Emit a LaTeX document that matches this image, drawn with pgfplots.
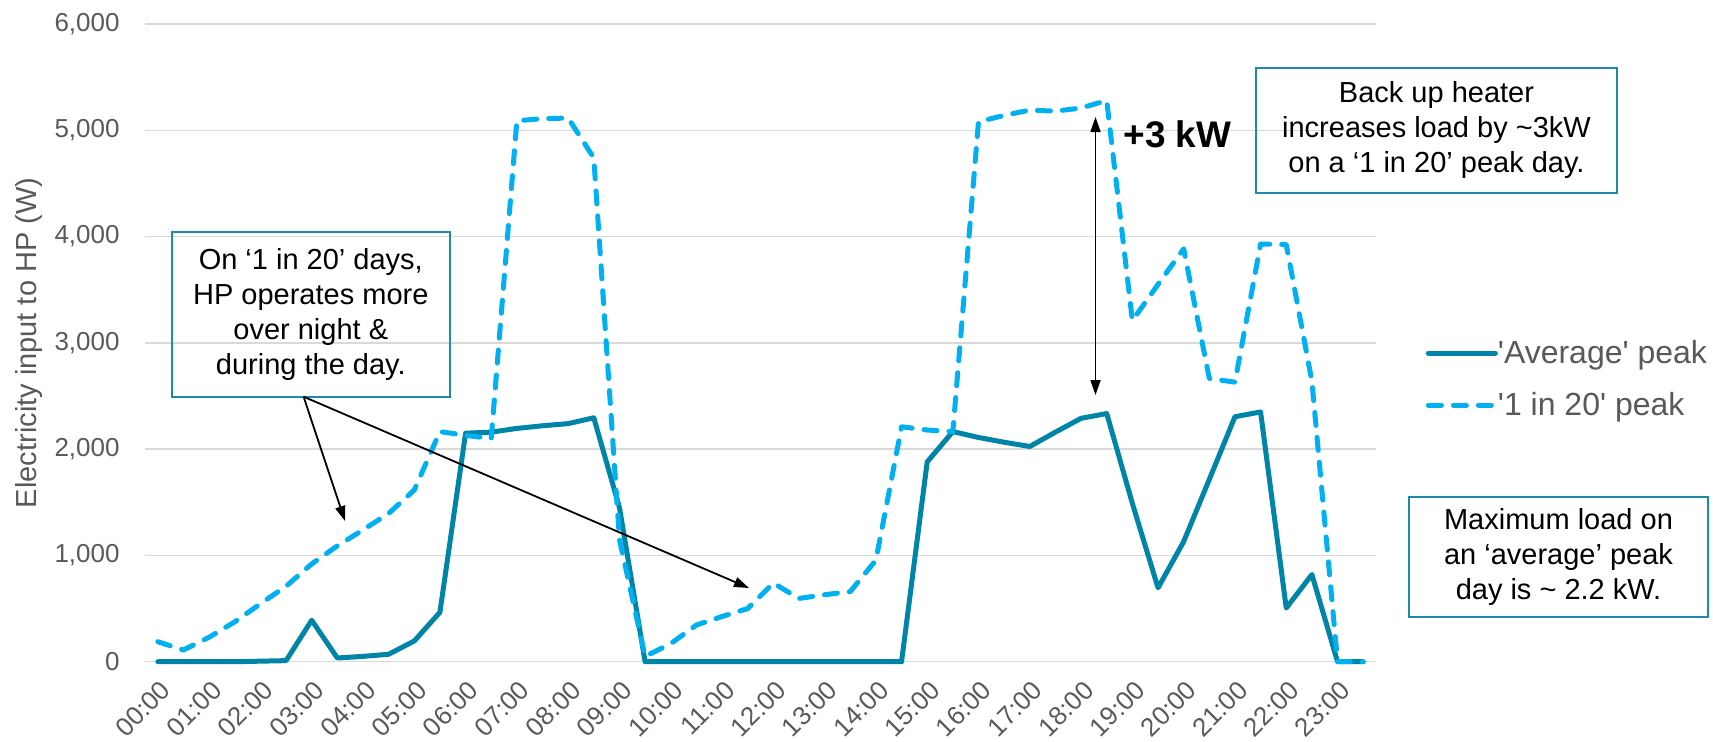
\documentclass[border=0pt]{standalone}
\usepackage{fontspec}
\setmainfont{Liberation Sans}
\usepackage{pgfplots}
\usepackage{pgfplotstable}
\pgfplotsset{compat=1.18}
\usetikzlibrary{arrows.meta}

\definecolor{avgblue}{RGB}{0,133,168}
\definecolor{peakblue}{RGB}{0,176,240}
\definecolor{labelgrey}{RGB}{89,89,89}
\definecolor{gridgrey}{RGB}{217,217,217}
\definecolor{boxteal}{RGB}{31,138,168}

% Half-hourly electricity input to the heat pump (W), slot 0 = 00:00
\pgfplotstableread{
i  avg   peak
0  0     188
1  0     110
2  0     230
3  0     375
4  5     545
5  10    710
6  390   920
7  35    1090
8  50    1240
9  70    1395
10 195   1615
11 465   2165
12 2150  2130
13 2160  2100
14 2195  5090
15 2220  5110
16 2240  5115
17 2295  4740
18 1450  1150
19 0     50
20 0     170
21 0     345
22 0     425
23 0     500
24 0     740
25 0     595
26 0     630
27 0     660
28 0     955
29 0     2210
30 1880  2180
31 2165  2165
32 2110  5080
33 2065  5140
34 2025  5190
35 2160  5180
36 2290  5210
37 2335  5280
38 1490  3210
39 695   3550
40 1130  3885
41 1715  2665
42 2305  2630
43 2350  3930
44 505   3925
45 820   2640
46 0     0
47 0     0
}\loadtable

\begin{document}
\begin{tikzpicture}
\useasboundingbox (0pt,0pt) rectangle (856.5pt,370.5pt);
\begin{axis}[
  at={(72.5pt,39.65pt)}, anchor=south west,
  width=615.5pt, height=318.85pt, scale only axis,
  clip=false,
  xmin=-0.5, xmax=47.5, ymin=0, ymax=6000,
  xtick={0,2,...,46},
  xticklabels={00:00,01:00,02:00,03:00,04:00,05:00,06:00,07:00,08:00,09:00,10:00,11:00,12:00,13:00,14:00,15:00,16:00,17:00,18:00,19:00,20:00,21:00,22:00,23:00},
  ytick={0,1000,...,6000},
  ymajorgrids, grid style={gridgrey, line width=0.75pt},
  axis line style={draw=none},
  major tick length=0pt,
  /pgf/number format/1000 sep={,},
  /pgf/number format/assume math mode=true,
  tick label style={font=\fontsize{13}{15}\selectfont, text=labelgrey},
  yticklabel style={anchor=east, inner sep=0pt, xshift=-12.5pt},
  xticklabel style={rotate=45, anchor=east, inner sep=0pt, xshift=-5.5pt, yshift=-11.35pt},
  ylabel={Electricity input to HP (W)},
  ylabel style={at={(axis description cs:-0.0942,0.5)}, anchor=center, font=\fontsize{14.5}{17}\selectfont, text=labelgrey},
  legend style={at={(axis description cs:1.0402,0.4433)}, anchor=west, draw=none, fill=none, inner sep=0pt, row sep=10pt,
    font=\fontsize{16}{19}\selectfont, text=labelgrey,
    nodes={inner sep=0pt, text height=13pt, text depth=3pt, anchor=west}},
  legend cell align=left,
  legend image code/.code={\draw[#1] (0pt,0pt) -- (33.5pt,0pt);},
  /tikz/every even column/.append style={column sep=1.75pt},
]
\addplot[avgblue, line width=2.5pt, line cap=round, line join=round] table[x=i, y=avg]{\loadtable};
\addlegendentry{\textquotesingle Average\textquotesingle{} peak}
\addplot[peakblue, line width=2.5pt, line cap=round, line join=round, dash pattern=on 6.5pt off 6pt] table[x=i, y=peak]{\loadtable};
\addlegendentry{\textquotesingle 1 in 20\textquotesingle{} peak}
\end{axis}

% call-out boxes
\node[draw=boxteal, line width=1pt, align=center, minimum width=139.25pt, minimum height=82.5pt, inner sep=0pt,
  font=\fontsize{14.5}{17.5}\selectfont] (nightbox) at (155.4pt,213.45pt)
  {On ‘1 in 20’ days,\\HP operates more\\over night \&\\during the day.};
\node[draw=boxteal, line width=1pt, align=center, minimum width=180.5pt, minimum height=62.5pt, inner sep=0pt,
  font=\fontsize{14.5}{17.5}\selectfont] at (718.25pt,305.25pt)
  {Back up heater\\increases load by \textasciitilde 3kW\\on a ‘1 in 20’ peak day.};
\node[draw=boxteal, line width=1pt, align=center, minimum width=149.5pt, minimum height=60pt, inner sep=0pt,
  font=\fontsize{14.5}{17.5}\selectfont] at (779.25pt,92pt)
  {Maximum load on\\an ‘average’ peak\\day is \textasciitilde{} 2.2 kW.};

% pointer arrows
\draw[line width=0.9pt, -{Triangle[length=7.5pt,width=5pt]}] (151.8pt,172.15pt) -- (172.5pt,110pt);
\draw[line width=0.9pt, -{Triangle[length=7.5pt,width=5pt]}] (151.8pt,172.15pt) -- (374.5pt,76.5pt);
\draw[line width=0.9pt, {Triangle[length=7.5pt,width=5pt]}-{Triangle[length=7.5pt,width=5pt]}] (547.75pt,312pt) -- (547.75pt,173pt);
\node[anchor=base west, inner sep=0pt, font=\bfseries\fontsize{18.5}{22}\selectfont] at (561.5pt,297pt) {+3 kW};
\end{tikzpicture}
\end{document}
